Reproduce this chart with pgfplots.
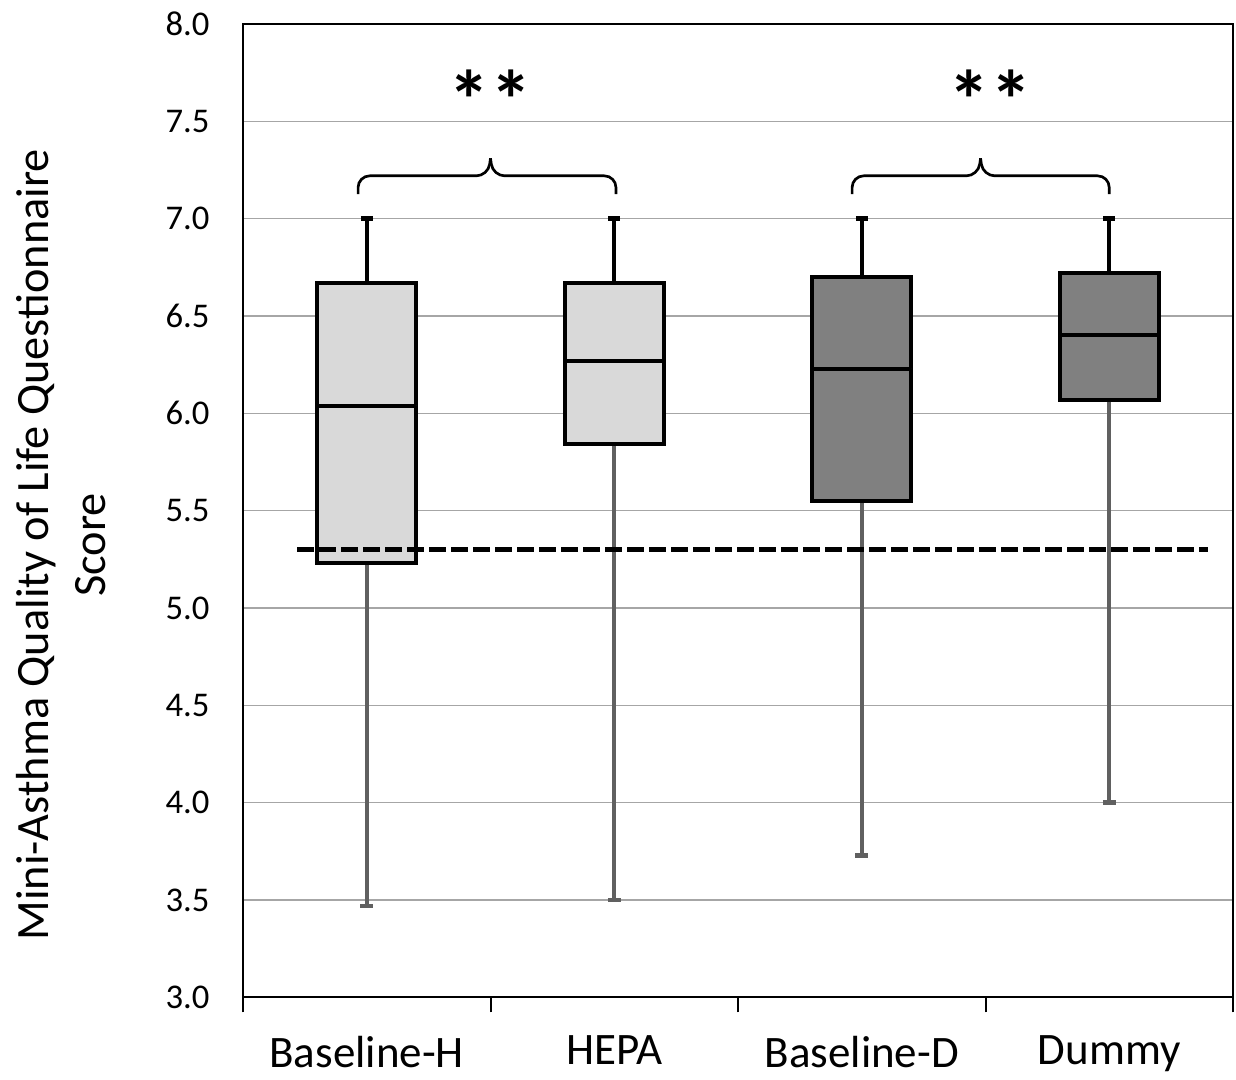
\documentclass[border=0pt]{standalone}
\usepackage{fontspec}
\setmainfont{Carlito}
\usepackage{pgfplots}
\pgfplotsset{compat=1.18}
\usepgfplotslibrary{statistics}

\definecolor{boxlight}{HTML}{D9D9D9}
\definecolor{boxdark}{HTML}{808080}
\definecolor{whiskgray}{HTML}{606060}
\definecolor{gridgray}{HTML}{A6A6A6}

\begin{document}
\begin{tikzpicture}
\begin{axis}[
    scale only axis,
    width=297pt, height=292pt,
    xmin=0.5, xmax=4.5, ymin=3, ymax=8,
    xtick={1,2,3,4},
    xticklabels={Baseline-H,HEPA,Baseline-D,Dummy},
    minor xtick={0.5,1.5,2.5,3.5,4.5},
    xtick pos=bottom, ytick pos=left,
    xtick align=outside,
    major tick length=0pt, minor tick length=4.5pt,
    minor tick style={black, line width=0.6pt},
    ytick={3,3.5,4,4.5,5,5.5,6,6.5,7,7.5,8},
    /pgf/number format/assume math mode=true,
    ticklabel style={font=\fontsize{10.4}{12}\selectfont},
    yticklabel style={/pgf/number format/fixed, /pgf/number format/fixed zerofill,
        /pgf/number format/precision=1, xshift=-6.5pt},
    xticklabel style={font=\fontsize{13.5}{16}\selectfont, yshift=-8pt},
    ymajorgrids,
    major grid style={gridgray, line width=0.45pt},
    axis line style={line width=0.6pt},
    ylabel={Mini-Asthma Quality of Life Questionnaire\\Score},
    ylabel style={font=\fontsize{13.9}{17}\selectfont, align=center,
        at={(axis description cs:-0.184,0.465)}, anchor=center},
    boxplot/draw direction=y,
    boxplot/draw/lower whisker/.code={%
        \draw[whiskgray, line width=1.1pt]
            (boxplot box cs:\pgfplotsboxplotvalue{lower quartile},0.5) --
            (boxplot box cs:\pgfplotsboxplotvalue{lower whisker},0.5);
        \draw[whiskgray, line width=1.4pt]
            (boxplot box cs:\pgfplotsboxplotvalue{lower whisker},0.435) --
            (boxplot box cs:\pgfplotsboxplotvalue{lower whisker},0.565);
    },
    boxplot/draw/upper whisker/.code={%
        \draw[black, line width=1.1pt]
            (boxplot box cs:\pgfplotsboxplotvalue{upper quartile},0.5) --
            (boxplot box cs:\pgfplotsboxplotvalue{upper whisker},0.5);
        \draw[black, line width=1.4pt]
            (boxplot box cs:\pgfplotsboxplotvalue{upper whisker},0.44) --
            (boxplot box cs:\pgfplotsboxplotvalue{upper whisker},0.56);
    },
]
% boxes
\addplot[boxplot prepared={draw position=1, lower whisker=3.47, lower quartile=5.23,
    median=6.04, upper quartile=6.67, upper whisker=7.0, box extend=0.4},
    draw=black, fill=boxlight, line width=1.2pt] coordinates {};
\addplot[boxplot prepared={draw position=2, lower whisker=3.50, lower quartile=5.84,
    median=6.27, upper quartile=6.67, upper whisker=7.0, box extend=0.4},
    draw=black, fill=boxlight, line width=1.2pt] coordinates {};
\addplot[boxplot prepared={draw position=3, lower whisker=3.73, lower quartile=5.55,
    median=6.23, upper quartile=6.70, upper whisker=7.0, box extend=0.4},
    draw=black, fill=boxdark, line width=1.2pt] coordinates {};
\addplot[boxplot prepared={draw position=4, lower whisker=4.00, lower quartile=6.07,
    median=6.40, upper quartile=6.72, upper whisker=7.0, box extend=0.4},
    draw=black, fill=boxdark, line width=1.2pt] coordinates {};

% threshold line
\addplot[black, line width=1.5pt, dash pattern=on 5pt off 1.6pt] coordinates {(0.72,5.3) (4.40,5.3)};

% significance braces
\draw[line width=0.8pt, rounded corners=3.5pt] (axis cs:0.965,7.126) |- (axis cs:1.49,7.22) -- (axis cs:1.5,7.31);
\draw[line width=0.8pt, rounded corners=3.5pt] (axis cs:2.007,7.126) |- (axis cs:1.51,7.22) -- (axis cs:1.5,7.31);
\draw[line width=0.8pt, rounded corners=3.5pt] (axis cs:2.961,7.126) |- (axis cs:3.47,7.22) -- (axis cs:3.48,7.31);
\draw[line width=0.8pt, rounded corners=3.5pt] (axis cs:4.0,7.126) |- (axis cs:3.49,7.22) -- (axis cs:3.48,7.31);
\node[font=\fontsize{25}{25}\selectfont\bfseries] at (axis cs:1.5,7.61) {**};
\node[font=\fontsize{25}{25}\selectfont\bfseries] at (axis cs:3.52,7.61) {**};

\coordinate (bl) at (rel axis cs:0,0);
\coordinate (tr) at (rel axis cs:1,1);
\end{axis}
\pgfresetboundingbox
\path ([shift={(-72.9pt,-24.6pt)}]bl) rectangle ([shift={(0.9pt,7.2pt)}]tr);
\end{tikzpicture}
\end{document}
